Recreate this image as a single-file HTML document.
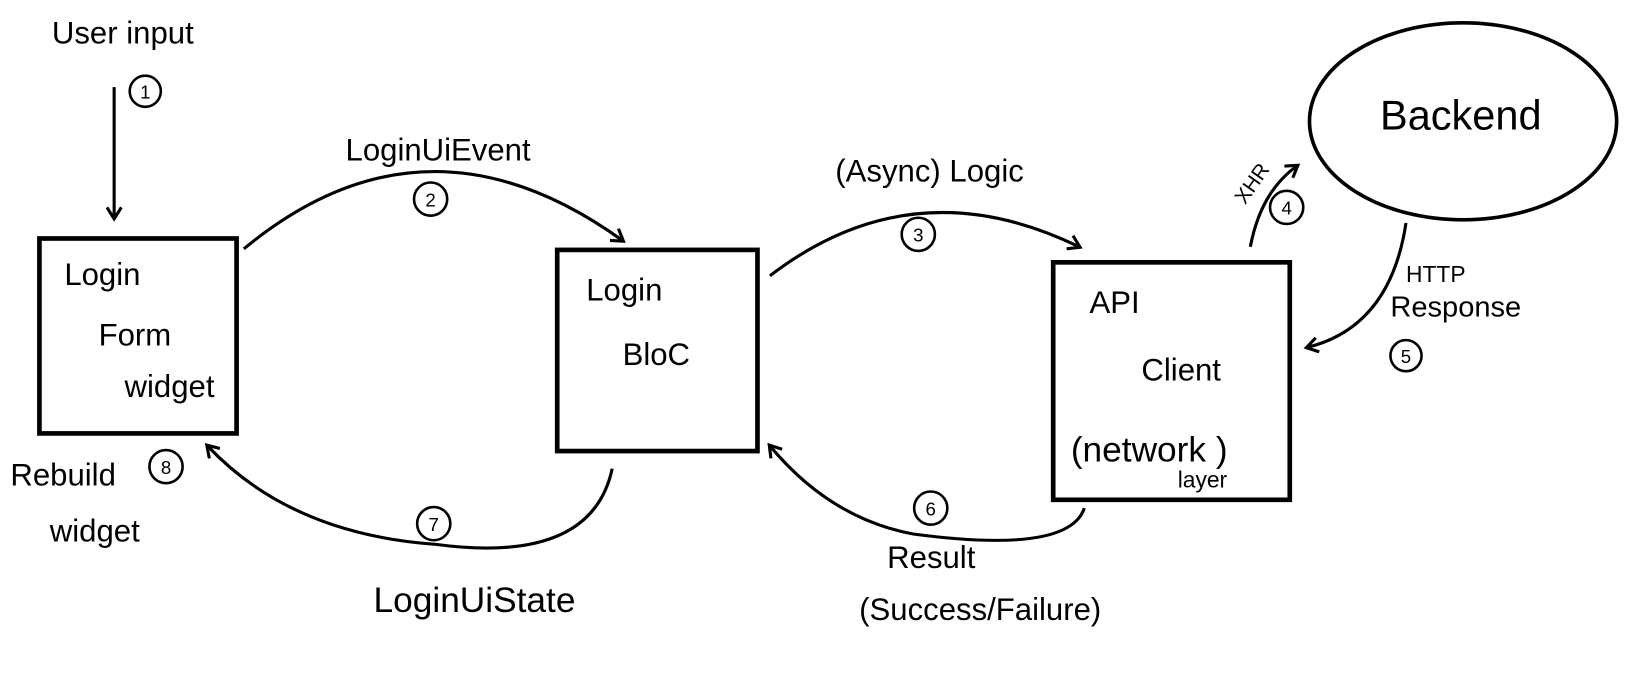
<!DOCTYPE html>
<html><head><meta charset="utf-8"><style>
html,body{margin:0;padding:0;background:#fff;width:1627px;height:674px;overflow:hidden}
svg{display:block}
text{font-family:"Liberation Sans",sans-serif;fill:#000}
</style></head><body>
<svg width="1627" height="674" viewBox="0 0 1568 650" preserveAspectRatio="none" xmlns="http://www.w3.org/2000/svg">
<defs>
<marker id="a" markerWidth="16" markerHeight="16" refX="11" refY="8" orient="auto" markerUnits="userSpaceOnUse">
<path d="M1,1 L12,8 L1,15" fill="none" stroke="#000" stroke-width="3"/>
</marker>
</defs>
<g fill="none" stroke="#000">
<rect x="38" y="230" width="190" height="188" stroke-width="4.5"/>
<rect x="537" y="241" width="193" height="194" stroke-width="4.5"/>
<rect x="1015" y="253" width="228" height="229" stroke-width="4.5"/>
<ellipse cx="1410" cy="117" rx="148" ry="95" stroke-width="3.5"/>
<g stroke-width="3">
<path d="M110,84 L110,210" marker-end="url(#a)"/>
<path d="M235,240 Q410,95 600,232" marker-end="url(#a)"/>
<path d="M742,266 Q880,160 1040,238" marker-end="url(#a)"/>
<path d="M1205,238 Q1215,185 1250,160" marker-end="url(#a)"/>
<path d="M1355,215 Q1340,315 1260,335" marker-end="url(#a)"/>
<path d="M1045,490 Q1030,535 880,515 Q800,500 742,430" marker-end="url(#a)"/>
<path d="M590,452 Q570,545 420,525 Q280,515 200,430" marker-end="url(#a)"/>
</g>
<g stroke-width="2.5">
<circle cx="140" cy="88" r="15"/>
<circle cx="415" cy="192" r="16"/>
<circle cx="885" cy="226" r="16"/>
<circle cx="1240" cy="200" r="16"/>
<circle cx="1355" cy="343" r="15"/>
<circle cx="897" cy="490" r="16"/>
<circle cx="418" cy="505" r="16"/>
<circle cx="160" cy="450" r="16"/>
</g>
</g>
<g font-size="30">
<text x="50" y="42">User input</text>
<text x="333" y="155">LoginUiEvent</text>
<text x="805" y="175">(Async) Logic</text>
<text x="1330" y="125" font-size="40">Backend</text>
<text x="360" y="590" font-size="34">LoginUiState</text>
<text x="855" y="548">Result</text>
<text x="828" y="598">(Success/Failure)</text>
<text x="10" y="468">Rebuild</text>
<text x="48" y="522">widget</text>
<text x="62" y="275">Login</text>
<text x="95" y="333">Form</text>
<text x="120" y="383">widget</text>
<text x="565" y="290">Login</text>
<text x="600" y="352">BloC</text>
<text x="1050" y="302">API</text>
<text x="1100" y="367">Client</text>
<text x="1032" y="445" font-size="34">(network )</text>
<text x="1135" y="470" font-size="22">layer</text>
<text x="1355" y="272" font-size="22">HTTP</text>
<text x="1340" y="305" font-size="28">Response</text>
<text x="0" y="0" font-size="20" transform="translate(1200,198) rotate(-55)">XHR</text>
</g>
<g font-size="18" text-anchor="middle">
<text x="140" y="95">1</text>
<text x="415" y="199">2</text>
<text x="885" y="233">3</text>
<text x="1240" y="207">4</text>
<text x="1355" y="350">5</text>
<text x="897" y="497">6</text>
<text x="418" y="512">7</text>
<text x="160" y="457">8</text>
</g>
</svg>
</body></html>
